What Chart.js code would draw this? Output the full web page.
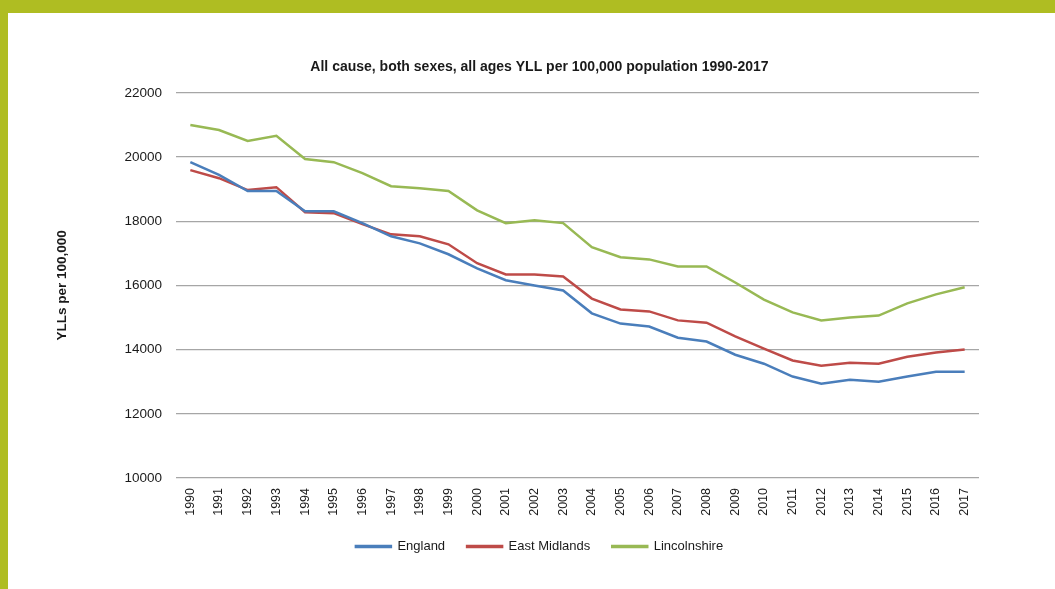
<!DOCTYPE html>
<html>
<head>
<meta charset="utf-8">
<script src="https://cdn.jsdelivr.net/npm/chart.js@4.4.0/dist/chart.umd.min.js"></script>
<style>
  html, body { margin: 0; padding: 0; background: #ffffff; }
  #wrap { position: relative; width: 1055px; height: 589px; overflow: hidden; }
  #chart { position: absolute; left: 0; top: 0; }
  .bar-top  { position: absolute; left: 0; top: 0; width: 1055px; height: 13px; background: #afbd22; }
  .bar-left { position: absolute; left: 0; top: 0; width: 8px; height: 589px; background: #afbd22; }
</style>
</head>
<body>
<div id="wrap">
  <canvas id="chart" width="1055" height="589"></canvas>
  <div class="bar-top"></div>
  <div class="bar-left"></div>
</div>
<script>
// ── data ─────────────────────────────────────────────
const YEARS = ["1990","1991","1992","1993","1994","1995","1996","1997","1998","1999",
  "2000","2001","2002","2003","2004","2005","2006","2007","2008","2009",
  "2010","2011","2012","2013","2014","2015","2016","2017"];

const ENGLAND = [19840,19440,18940,18940,18310,18310,17940,17530,17310,16970,
  16530,16160,16000,15840,15130,14810,14720,14370,14250,13840,
  13560,13160,12940,13060,13000,13160,13310,13310];

const EAST_MIDLANDS = [19590,19340,18970,19060,18280,18250,17910,17590,17530,17280,
  16690,16340,16340,16280,15590,15250,15190,14910,14840,14410,
  14030,13660,13500,13590,13560,13780,13910,14000];

const LINCOLNSHIRE = [21000,20840,20500,20660,19940,19840,19500,19090,19030,18940,
  18340,17940,18030,17940,17190,16880,16810,16590,16590,16090,
  15560,15160,14910,15000,15060,15440,15720,15940];

const Y_MIN = 10000, Y_MAX = 22000, Y_STEP = 2000;

const FONT = "'Liberation Sans', Arial, sans-serif";
const TXT = "#1a1a1a";

function line(label, data, color) {
  return {
    label, data,
    borderColor: color,
    backgroundColor: color,
    borderWidth: 2.5,
    pointRadius: 0,
    tension: 0,
  };
}

new Chart(document.getElementById("chart"), {
  type: "line",
  data: {
    labels: YEARS,
    datasets: [
      line("England", ENGLAND, "#4a7ebb"),
      line("East Midlands", EAST_MIDLANDS, "#be4b48"),
      line("Lincolnshire", LINCOLNSHIRE, "#98b954"),
    ]
  },
  options: {
    responsive: false,
    animation: false,
    layout: { padding: { top: 51, left: 100, right: 76, bottom: 26 } },
    plugins: {
      title: {
        display: true,
        text: "All cause, both sexes, all ages YLL per 100,000 population 1990-2017",
        color: TXT,
        font: { family: FONT, size: 14, weight: "bold" },
        padding: { top: 8, bottom: 17 }
      },
      legend: {
        position: "bottom",
        labels: {
          color: TXT,
          font: { family: FONT, size: 13 },
          boxWidth: 35,
          boxHeight: 1,
          padding: 22
        }
      },
      tooltip: { enabled: false }
    },
    scales: {
      x: {
        offset: true,
        grid: { display: false, drawTicks: false },
        border: { display: false },
        ticks: {
          color: TXT,
          font: { family: FONT, size: 12.5 },
          maxRotation: 90, minRotation: 90,
          autoSkip: false,
          padding: 10
        },
        afterFit: s => { s.height = 40; }
      },
      y: {
        min: Y_MIN, max: Y_MAX,
        grid: { color: "#a6a6a6", lineWidth: 1.2, drawTicks: false },
        border: { display: false },
        ticks: {
          stepSize: Y_STEP,
          color: TXT,
          font: { family: FONT, size: 13.5 },
          padding: 14,
          callback: v => String(v)
        },
        title: {
          display: true,
          text: "YLLs per 100,000",
          color: TXT,
          font: { family: FONT, size: 13.5, weight: "bold" },
          padding: { top: -46, bottom: 0 }
        },
        afterFit: s => { s.width = 176 - 100; }
      }
    }
  }
});
</script>
</body>
</html>
